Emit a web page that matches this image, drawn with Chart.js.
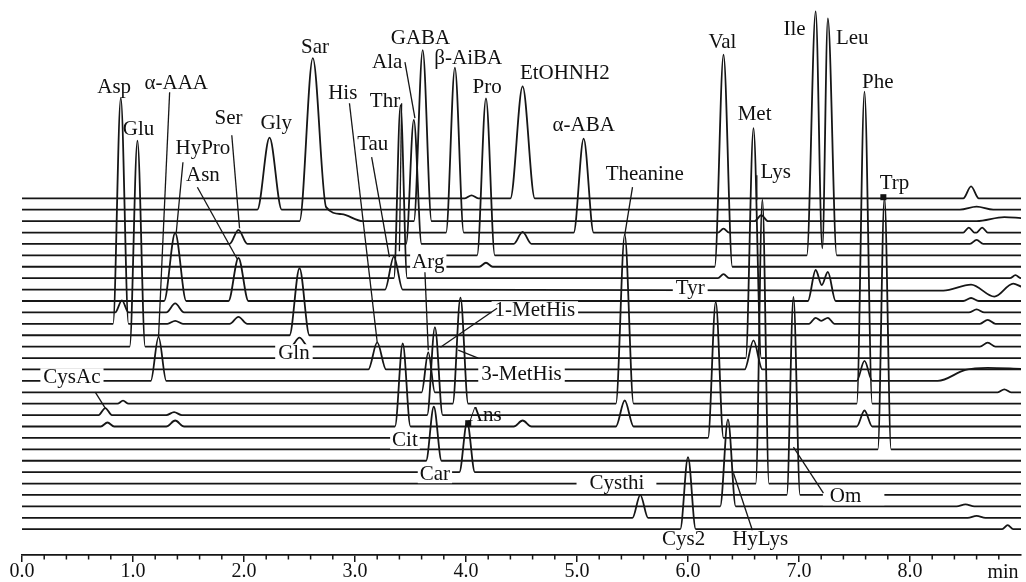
<!DOCTYPE html>
<html><head><meta charset="utf-8">
<script src="https://cdn.jsdelivr.net/npm/chart.js@4.4.1/dist/chart.umd.min.js"></script>
<style>html,body{margin:0;padding:0;background:#fff;}#wrap{width:1026px;height:582px;position:relative;}</style>
</head><body><div id="wrap"><canvas id="c" width="1026" height="582"></canvas></div>
<script>
// ---------- axis ----------
const timeMin = 0.0, timeMax = 9.0;
const xTickLabels = ['0.0','1.0','2.0','3.0','4.0','5.0','6.0','7.0','8.0'];
const xUnitLabel = 'min';

// ---------- traces (top to bottom) ----------
// each entry: [retention time (min), signal, half base width (min)]; width 0 = a single read point
const trace00 = [[4.05,3,0.06],[4.51,112,0.11],[8.55,12,0.07]];
const trace01 = [[2.23,72,0.11]];
const trace02 = [[2.50,0,0],[2.62,163,0],[2.74,14,0],[2.88,7,0],[3.07,0,0],[3.61,171,0.08],[6.66,6,0.06]];
const trace03 = [[3.90,165,0.08],[5.06,94,0.09],[6.32,4,0.05],[8.53,5,0.05],[8.65,5,0.05]];
const trace04 = [[1.95,14,0.08],[3.53,124,0.07],[4.51,12,0.08],[8.60,4,0.06]];
const trace05 = [[4.18,157,0.08],[7.07,0,0],[7.15,244,0],[7.21,7,0],[7.26,237,0],[7.34,0,0]];
const trace06 = [[4.18,4,0.06],[6.32,212,0.08]];
const trace07 = [[3.41,173,0.06],[6.32,4,0.05],[8.95,3,0.05]];
const trace08 = [[3.35,33,0.08]];
const trace09 = [[1.38,68,0.1],[1.95,43,0.09],[7.08,0,0],[7.15,31,0],[7.205,16,0],[7.26,29,0],[7.33,0,0],[8.55,3,0.07]];
const trace10 = [[0.90,12,0.06],[1.38,9,0.08],[8.6,3,0.07]];
const trace11 = [[0.89,226,0.07],[1.38,3,0.07],[1.95,7,0.08],[7.09,0,0],[7.15,6,0],[7.2,3,0],[7.26,6,0],[7.32,0,0],[8.7,4,0.07]];
const trace12 = [[2.50,67,0.09]];
const trace13 = [[1.04,206,0.07],[2.50,9,0.08],[8.7,4,0.07]];
const trace14 = [[6.59,230,0.07]];
const trace15 = [[3.20,27,0.08],[6.59,29,0.08]];
const trace16 = [[1.23,44,0.07],[7.59,20,0.07]];
const trace17 = [[3.66,40,0.06],[8.85,3,0.06]];
const trace18 = [[0.91,3,0.05],[3.95,106,0.07],[5.43,169,0.08],[7.59,312,0.07]];
const trace19 = [[0.75,7,0.06],[1.37,3,0.07],[3.72,88,0.07]];
const trace20 = [[0.77,4,0.06],[1.38,6,0.08],[3.43,83,0.07],[4.51,6,0.08],[5.43,26,0.08],[7.59,16,0.07]];
const trace21 = [[6.25,136,0.07]];
const trace22 = [[7.77,252,0.06]];
const trace23 = [[3.71,54,0.07]];
const trace24 = [[4.01,50,0.07]];
const trace25 = [[6.67,284,0.06]];
const trace26 = [[6.95,198,0.06]];
const trace27 = [[6.36,87,0.07],[8.5,2,0.08]];
const trace28 = [[5.57,23,0.07],[8.6,2,0.08]];
const trace29 = [[6.00,72,0.07],[8.88,4,0.05]];
// baseline drift (time, signal) where the baseline is not flat
const drift01 = [[0,0],[8.45,0],[8.6,3],[8.75,0],[9.0,0]];
const drift02 = [[0,0],[8.6,0],[8.85,4],[9.0,3]];
const drift08 = [[0,0],[8.3,-1],[8.55,5],[8.76,-7],[8.93,6],[9.0,3]];
const drift16 = [[0,0],[8.25,0],[8.5,11],[8.7,13],[9.0,12]];

const allTraces = [trace00,trace01,trace02,trace03,trace04,trace05,trace06,trace07,trace08,trace09,
  trace10,trace11,trace12,trace13,trace14,trace15,trace16,trace17,trace18,trace19,
  trace20,trace21,trace22,trace23,trace24,trace25,trace26,trace27,trace28,trace29];
const drifts = {1: drift01, 2: drift02, 8: drift08, 16: drift16};

// ---------- peak labels ----------
const peakLabels = ['Asp','Glu','α-AAA','HyPro','Asn','Ser','Gly','Sar','His','Thr','Tau','Ala','GABA','β-AiBA','Pro',
  'EtOHNH2','α-ABA','Theanine','Val','Ile','Leu','Met','Lys','Phe','Trp','Arg','1-MetHis','3-MetHis','Tyr','Gln',
  'CysAc','Cit','Ans','Car','Cysthi','Om','Cys2','HyLys'];

// ---------- layout (not data) ----------
const STACK = 11.41;         // vertical offset between traces
const NTR = allTraces.length;
const PX_X0 = 22, PX_X1 = 1021; // plot x-extent
// annotation placement in data coords [time, signal]
const labelPlace = {
  'Asp':[0.83,442],'Glu':[1.05,400],'α-AAA':[1.39,446],'HyPro':[1.63,381],'Asn':[1.63,354],'Ser':[1.86,411],
  'Gly':[2.29,406],'Sar':[2.64,482],'His':[2.89,436],'Thr':[3.27,428],'Tau':[3.16,385],'Ala':[3.29,467],
  'GABA':[3.59,491],'β-AiBA':[4.02,471],'Pro':[4.19,442],'EtOHNH2':[4.89,456],'α-ABA':[5.06,404],
  'Theanine':[5.61,355],'Val':[6.31,487],'Ile':[6.96,500],'Leu':[7.48,491],'Met':[6.60,415],'Lys':[6.79,357],
  'Phe':[7.71,447],'Trp':[7.86,346],'Arg':[3.66,267],'1-MetHis':[4.62,219],'3-MetHis':[4.50,155],'Tyr':[6.02,241],
  'Gln':[2.45,176],'CysAc':[0.45,152],'Cit':[3.45,89],'Ans':[4.17,114],'Car':[3.72,55],'Cysthi':[5.36,46],
  'Om':[7.42,33],'Cys2':[5.96,-10],'HyLys':[6.65,-10]
};
// white gap behind label: [left pad, right pad] in px
const labelGap = {'Cysthi':[13,12],'Om':[7,23],'1-MetHis':[3,3],'3-MetHis':[3,3],'Tyr':[3,3],'Gln':[3,3],
  'CysAc':[3,3],'Arg':[2,2],'Cit':[2,2],'Car':[2,2]};
const leaders = [
  [[1.33,437],[1.23,192]],       // α-AAA
  [[1.45,367],[1.39,297]],       // HyPro
  [[1.58,342],[1.94,270]],       // Asn
  [[1.89,394],[1.96,301]],       // Ser
  [[2.95,426],[3.20,187]],       // His
  [[3.15,372],[3.31,272]],       // Tau
  [[3.42,426],[3.40,278]],       // Thr
  [[3.45,467],[3.54,411]],       // Ala
  [[3.63,257],[3.66,179]],       // Arg
  [[4.28,221],[3.77,182]],       // 1-MetHis
  [[4.11,171],[3.93,179]],       // 3-MetHis
  [[5.50,342],[5.43,294]],       // Theanine
  [[6.62,354],[6.62,329]],       // Lys
  [[7.22,36],[6.95,82]],         // Om
  [[6.58,-1],[6.41,56]],         // HyLys
  [[0.66,137],[0.75,121]]        // CysAc
];
const markers = [[4.02,106],[7.76,332]]; // Ans, Trp small square marks

function buildPoints(peaks, i) {
  const off = (NTR - 1 - i) * STACK;
  const base = drifts[i] || [[timeMin,0],[timeMax,0]];
  const pts = base.map(([t,d]) => ({x:t, y:off + d}));
  peaks.forEach(([t,h,w]) => {
    if (w > 0) { pts.push({x:t-w,y:off},{x:t,y:off+h},{x:t+w,y:off}); }
    else pts.push({x:t,y:off+h});
  });
  pts.sort((a,b) => a.x - b.x);
  return pts;
}

const datasets = allTraces.map((p,i) => ({
  data: buildPoints(p,i), borderColor:'#161616', borderWidth:1.8, pointRadius:0,
  cubicInterpolationMode:'monotone', fill:false
}));

const FONT = '"Liberation Serif","Times New Roman",serif';

const decor = {
  id:'decor',
  afterDatasetsDraw(chart) {
    const {ctx, scales:{x,y}} = chart;
    const P = ([t,v]) => [x.getPixelForValue(t), y.getPixelForValue(v)];
    ctx.save();
    ctx.font = '21px ' + FONT; ctx.textAlign='center'; ctx.textBaseline='middle';
    // label gaps first
    peakLabels.forEach(name => {
      const g = labelGap[name]; if (!g) return;
      const [px,py] = P(labelPlace[name]); const w = ctx.measureText(name).width;
      ctx.fillStyle='#fff'; ctx.fillRect(px-w/2-g[0],py-9,w+g[0]+g[1],18);
    });
    ctx.strokeStyle = '#161616'; ctx.lineWidth = 1.3;
    leaders.forEach(([a,b]) => { const A=P(a),B=P(b); ctx.beginPath(); ctx.moveTo(A[0],A[1]); ctx.lineTo(B[0],B[1]); ctx.stroke(); });
    ctx.fillStyle = '#111';
    markers.forEach(m => { const M=P(m); ctx.fillRect(M[0]-3,M[1]-3,6,6); });
    peakLabels.forEach(name => {
      const [px,py] = P(labelPlace[name]);
      ctx.fillStyle='#111'; ctx.fillText(name,px,py);
    });
    // minor ticks
    ctx.strokeStyle='#161616'; ctx.lineWidth=1.5;
    const yb = chart.chartArea.bottom;
    for (let k=1;k<45;k++){ if(k%5===0) continue; const px=x.getPixelForValue(k*0.2); ctx.beginPath(); ctx.moveTo(px,yb); ctx.lineTo(px,yb+4.5); ctx.stroke(); }
    ctx.font='20px '+FONT; ctx.fillStyle='#111'; ctx.textAlign='center';
    ctx.fillText(xUnitLabel, 1003, 573);
    ctx.restore();
  }
};

new Chart(document.getElementById('c'), {
  type:'line',
  data:{datasets},
  options:{
    responsive:false, animation:false, devicePixelRatio:1,
    layout:{padding:{left:PX_X0,right:1026-PX_X1,top:0,bottom:0}},
    plugins:{legend:{display:false},tooltip:{enabled:false}},
    elements:{line:{borderCapStyle:'round',borderJoinStyle:'round'}},
    scales:{
      x:{type:'linear',min:timeMin,max:timeMax,
        ticks:{stepSize:1,autoSkip:false,maxRotation:0,padding:0,color:'#111',font:{family:FONT,size:20,lineHeight:1},
          callback:(v)=> (v>=0 && v<=8 && Number.isInteger(v)) ? xTickLabels[v] : ''},
        grid:{display:true,drawOnChartArea:false,drawTicks:true,tickLength:7,lineWidth:1.5,
          tickColor:(c)=> (c.tick && c.tick.value>8.5) ? 'rgba(0,0,0,0)' : '#161616'},
        border:{display:true,color:'#161616',width:1.8}
      },
      y:{type:'linear',display:false,min:-25.8,max:529.2}
    }
  },
  plugins:[decor]
});
</script></body></html>
